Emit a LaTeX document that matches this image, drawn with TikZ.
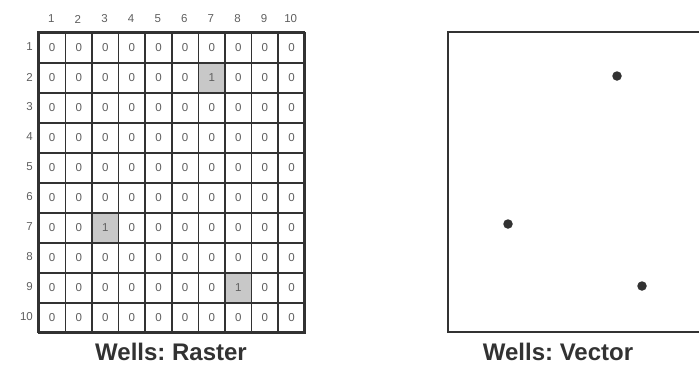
\documentclass[tikz,border=0pt]{standalone}
\usepackage{fontspec}
\setmainfont{Liberation Sans}
\frenchspacing
\definecolor{ink}{RGB}{50,50,50}
\definecolor{cellink}{RGB}{95,95,95}
\definecolor{shade}{RGB}{200,200,200}
\begin{document}
\begin{tikzpicture}[x=1pt,y=-1pt,
  cellbox/.style={draw=ink,line width=1.6pt,minimum width=26.6pt,minimum height=30pt,inner sep=0pt,anchor=north west,font=\fontsize{11.5}{11.5}\selectfont,text=cellink},
  hotcell/.style={cellbox,fill=shade},
  collabel/.style={font=\fontsize{11.5}{12}\selectfont,text=cellink,inner sep=0pt},
  rowlabel/.style={font=\fontsize{11.5}{12}\selectfont,text=cellink,inner sep=0pt,anchor=east},
  title/.style={font=\bfseries\fontsize{24}{26}\selectfont,text=ink,inner sep=0pt},
  well/.style={circle,fill=ink,inner sep=0pt,minimum size=9.5pt}]
\useasboundingbox (0,0) rectangle (699,370);
% raster grid
\foreach \r in {1,...,10}{
  \foreach \c in {1,...,10}{
    \pgfmathsetmacro{\xx}{38+26.6*(\c-1)}
    \pgfmathsetmacro{\yy}{32+30*(\r-1)}
    \node[cellbox] (c-\r-\c) at (\xx,\yy) {0};
  }
  \node[rowlabel] (r-\r) at (33,{47+30*(\r-1)}) {\r};
  \node[collabel] (h-\r) at ({51.3+26.6*(\r-1)},19) {\r};
}
\node[hotcell] (w1) at ({38+26.6*6},{32+30*1}) {1};
\node[hotcell] (w2) at ({38+26.6*2},{32+30*6}) {1};
\node[hotcell] (w3) at ({38+26.6*7},{32+30*8}) {1};
\draw[ink,line width=2pt] (38,32) rectangle (304,332);
% vector frame
\draw[ink,line width=2.2pt] (702,32) -- (448,32) -- (448,332) -- (702,332);
\node[well] (v1) at (617,76) {};
\node[well] (v2) at (508,224) {};
\node[well] (v3) at (642,286) {};
% titles
\node[title] (t1) at (171,352) {Wells: Raster};
\node[title] (t2) at (558,352) {Wells: Vector};
\end{tikzpicture}
\end{document}
